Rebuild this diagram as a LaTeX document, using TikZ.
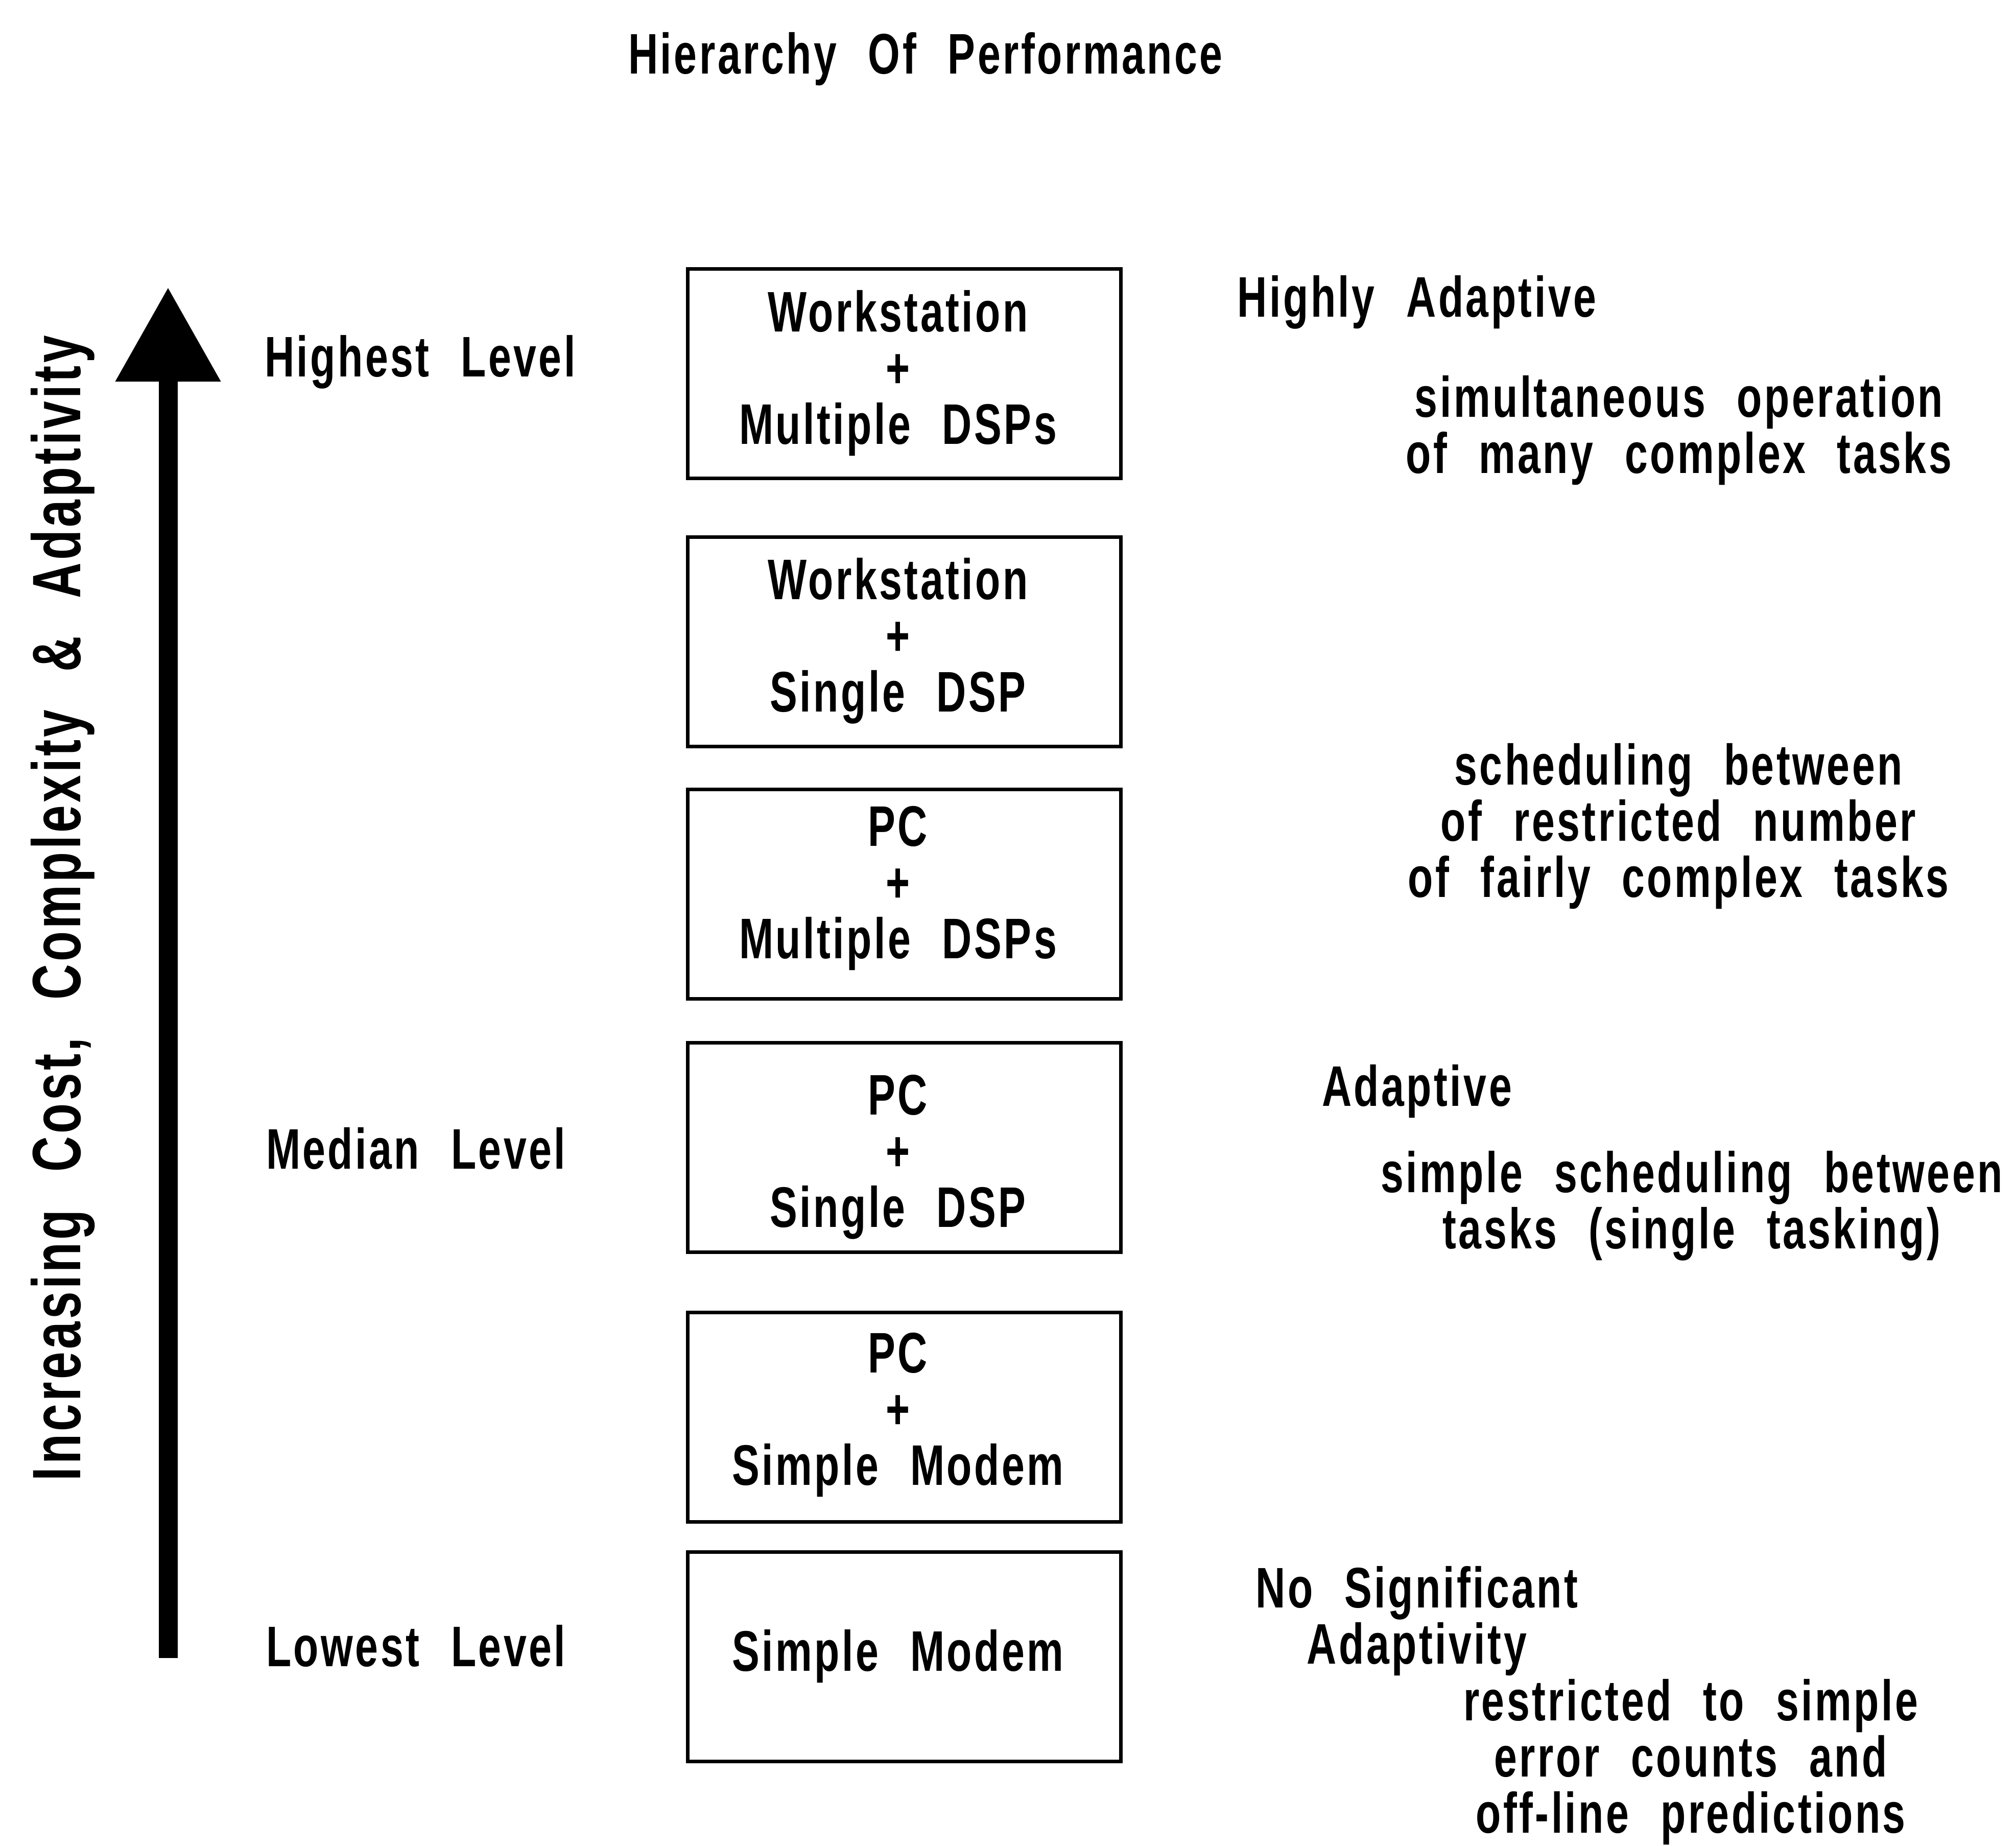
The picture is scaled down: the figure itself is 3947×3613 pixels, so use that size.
\documentclass[tikz,border=0pt]{standalone}
\usepackage{fontspec}
\usetikzlibrary{arrows.meta}
% narrow, slightly letter-spaced bold sans used for every text
\newfontfamily\condsans{Liberation Sans}[FakeStretch=0.72, LetterSpace=4, WordSpace=2.3]
% fixed first-line height and last-line depth, so that blocks of text sit alike
\newcommand\HtStrut{\rule{0pt}{90pt}}
\newcommand\DpStrut{\rule[-35pt]{0pt}{35pt}}
\begin{document}
\begin{tikzpicture}[x=1pt, y=-1pt,
  every node/.style={inner sep=0pt, outer sep=0pt,
    font=\condsans\bfseries\fontsize{112}{110}\selectfont},
  tier/.style={draw, line width=7pt, minimum width=848pt, minimum height=410pt},
  tiertext/.style={align=center},
  levelname/.style={anchor=base west},
  heading/.style={anchor=base},
  note/.style={anchor=north, align=center},
  axistext/.style={rotate=90, anchor=base,
    font=\condsans\bfseries\fontsize{134}{134}\selectfont},
]
\useasboundingbox (0,0) rectangle (3947,3613);
\fill[white] (0,0) rectangle (3947,3613);

% title
\node[heading] (title) at (1812,145) {Hierarchy Of Performance};

% rising axis with its caption
\coordinate (axis-foot) at (329,3246);
\coordinate (axis-tip) at (329,564);
\draw[line width=37pt, -{Triangle[width=207pt, length=183pt, line width=0pt]}] (axis-foot) -- (axis-tip);
\node[axistext] (axis-label) at (157,1778) {Increasing Cost, Complexity \& Adaptivity};

% level names
\node[levelname] (highest) at (518,737) {Highest Level};
\node[levelname] (median) at (521,2288) {Median Level};
\node[levelname] (lowest) at (521,3262) {Lowest Level};

% system configurations, top to bottom
\node[tier] (t6) at (1770,731.5) {};
\node[tier] (t5) at (1770,1256) {};
\node[tier] (t4) at (1770,1750.5) {};
\node[tier] (t3) at (1770,2246.5) {};
\node[tier] (t2) at (1770,2774) {};
\node[tier] (t1) at (1770,3243.5) {};

\node[tiertext] (t6-text) at ([xshift=-12pt]t6.center) {\HtStrut Workstation\\+\\Multiple DSPs\DpStrut};
\node[tiertext] (t5-text) at ([xshift=-12pt]t5.center) {\HtStrut Workstation\\+\\Single DSP\DpStrut};
\node[tiertext] (t4-text) at ([xshift=-12pt,yshift=12pt]t4.center) {\HtStrut PC\\+\\Multiple DSPs\DpStrut};
\node[tiertext] (t3-text) at ([xshift=-12pt,yshift=-18pt]t3.center) {\HtStrut PC\\+\\Single DSP\DpStrut};
\node[tiertext] (t2-text) at ([xshift=-12pt,yshift=4pt]t2.center) {\HtStrut PC\\+\\Simple Modem\DpStrut};
\node[tiertext] (t1-text) at ([xshift=-12pt]t1.center) {\HtStrut Simple Modem\DpStrut};

% adaptivity classes
\node[heading] (hi-head) at (2774,620) {Highly Adaptive};
\node[heading] (mid-head) at (2774,2165) {Adaptive};
\node[note] (lo-head) at (2774,3057) {\HtStrut No Significant\\Adaptivity\DpStrut};

% descriptions
\node[note] (hi-note) at (3287,726) {\HtStrut simultaneous operation\\of many complex tasks\DpStrut};
\node[note] (mh-note) at (3286,1446) {\HtStrut scheduling between\\of restricted number\\of fairly complex tasks\DpStrut};
\node[note] (mid-note) at (3312,2244) {\HtStrut simple scheduling between\\tasks (single tasking)\DpStrut};
\node[note] (lo-note) at (3310,3278) {\HtStrut restricted to simple\\error counts and\\off-line predictions\DpStrut};
\end{tikzpicture}
\end{document}
